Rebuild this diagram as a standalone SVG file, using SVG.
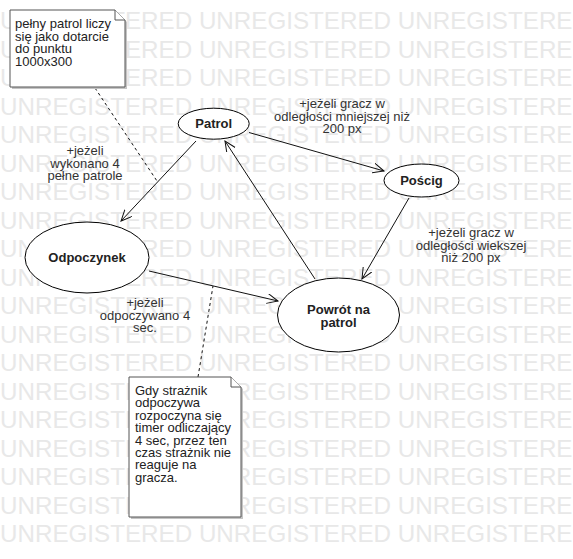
<svg xmlns="http://www.w3.org/2000/svg" width="573" height="559" viewBox="0 0 573 559">
<style>
.wm{font-family:"Liberation Sans",Arial,sans-serif;font-size:24.2px;fill:#e8e8e8}
.lbl{font-family:"Liberation Sans",Arial,sans-serif;font-size:13px;fill:#333;text-anchor:middle}
.st{font-family:"Liberation Sans",Arial,sans-serif;font-size:13px;font-weight:bold;fill:#222;text-anchor:middle}
.nt{font-family:"Liberation Sans",Arial,sans-serif;font-size:13px;fill:#222}
.state{fill:#fff;stroke:#000;stroke-width:1}
.note{fill:#fff;stroke:#555;stroke-width:1}
.shadow{fill:#c4c4c4}
.edge{fill:none;stroke:#111;stroke-width:1}
.dash{fill:none;stroke:#111;stroke-width:1;stroke-dasharray:3,3}
</style>
<defs>
<marker id="arr" markerUnits="userSpaceOnUse" markerWidth="14" markerHeight="12" refX="11" refY="5" orient="auto">
<path d="M0,0 L11,5 L0,10" fill="none" stroke="#111" stroke-width="1"/>
</marker>
</defs>
<rect width="573" height="559" fill="#fff"/>
<g id="watermark">
<text class="wm" x="0" y="29">UNREGISTERED UNREGISTERED UNREGISTERE</text>
<text class="wm" x="0" y="57.5">UNREGISTERED UNREGISTERED UNREGISTERE</text>
<text class="wm" x="0" y="86">UNREGISTERED UNREGISTERED UNREGISTERE</text>
<text class="wm" x="0" y="114.5">UNREGISTERED UNREGISTERED UNREGISTERE</text>
<text class="wm" x="0" y="143">UNREGISTERED UNREGISTERED UNREGISTERE</text>
<text class="wm" x="0" y="171.5">UNREGISTERED UNREGISTERED UNREGISTERE</text>
<text class="wm" x="0" y="200">UNREGISTERED UNREGISTERED UNREGISTERE</text>
<text class="wm" x="0" y="228.5">UNREGISTERED UNREGISTERED UNREGISTERE</text>
<text class="wm" x="0" y="257">UNREGISTERED UNREGISTERED UNREGISTERE</text>
<text class="wm" x="0" y="285.5">UNREGISTERED UNREGISTERED UNREGISTERE</text>
<text class="wm" x="0" y="314">UNREGISTERED UNREGISTERED UNREGISTERE</text>
<text class="wm" x="0" y="342.5">UNREGISTERED UNREGISTERED UNREGISTERE</text>
<text class="wm" x="0" y="371">UNREGISTERED UNREGISTERED UNREGISTERE</text>
<text class="wm" x="0" y="399.5">UNREGISTERED UNREGISTERED UNREGISTERE</text>
<text class="wm" x="0" y="428">UNREGISTERED UNREGISTERED UNREGISTERE</text>
<text class="wm" x="0" y="456.5">UNREGISTERED UNREGISTERED UNREGISTERE</text>
<text class="wm" x="0" y="485">UNREGISTERED UNREGISTERED UNREGISTERE</text>
<text class="wm" x="0" y="513.5">UNREGISTERED UNREGISTERED UNREGISTERE</text>
<text class="wm" x="0" y="542">UNREGISTERED UNREGISTERED UNREGISTERE</text>
</g>
<g id="connectors">
<line class="edge" x1="249" y1="132.5" x2="384" y2="171" marker-end="url(#arr)"/>
<line class="edge" x1="196" y1="141" x2="121" y2="221" marker-end="url(#arr)"/>
<line class="edge" x1="149" y1="271" x2="278" y2="301" marker-end="url(#arr)"/>
<line class="edge" x1="315" y1="279" x2="225" y2="141" marker-end="url(#arr)"/>
<line class="edge" x1="409" y1="198" x2="362" y2="279" marker-end="url(#arr)"/>
<line class="dash" x1="95" y1="88" x2="157" y2="181"/>
<line class="dash" x1="198" y1="377" x2="213" y2="286"/>
<text class="lbl" x="342" y="108">+jeżeli gracz w</text>
<text class="lbl" x="342" y="120.5">odległości mniejszej niż</text>
<text class="lbl" x="342" y="133">200 px</text>
<text class="lbl" x="85" y="155">+jeżeli</text>
<text class="lbl" x="85" y="167.5">wykonano 4</text>
<text class="lbl" x="85" y="180">pełne patrole</text>
<text class="lbl" x="145" y="307">+jeżeli</text>
<text class="lbl" x="145" y="319.5">odpoczywano 4</text>
<text class="lbl" x="145" y="332">sec.</text>
<text class="lbl" x="471" y="237">+jeżeli gracz w</text>
<text class="lbl" x="471" y="249.5">odległości wiekszej</text>
<text class="lbl" x="471" y="262">niż 200 px</text>
</g>
<g id="note1">
<path class="shadow" d="M12,12 H117 L127,22 V89 H12 Z"/>
<path class="note" d="M10,10 H115 L125,20 V87 H10 Z"/>
<path class="note" d="M115,10 V20 H125"/>
<text class="nt" x="15" y="28">pełny patrol liczy</text>
<text class="nt" x="15" y="40.5">się jako dotarcie</text>
<text class="nt" x="15" y="53">do punktu</text>
<text class="nt" x="15" y="65.5">1000x300</text>
</g>
<g id="note2">
<path class="shadow" d="M131,379 H233 L243,389 V519 H131 Z"/>
<path class="note" d="M129,377 H231 L241,387 V517 H129 Z"/>
<path class="note" d="M231,377 V387 H241"/>
<text class="nt" x="135" y="395">Gdy strażnik</text>
<text class="nt" x="135" y="407.4">odpoczywa</text>
<text class="nt" x="135" y="419.8">rozpoczyna się</text>
<text class="nt" x="135" y="432.2">timer odliczający</text>
<text class="nt" x="135" y="444.6">4 sec, przez ten</text>
<text class="nt" x="135" y="457">czas strażnik nie</text>
<text class="nt" x="135" y="469.4">reaguje na</text>
<text class="nt" x="135" y="481.8">gracza.</text>
</g>
<g id="patrol">
<ellipse class="state" cx="213.7" cy="123.7" rx="35.5" ry="15.5"/>
<text class="st" x="213.7" y="128.3">Patrol</text>
</g>
<g id="poscig">
<ellipse class="state" cx="421.5" cy="180.5" rx="37.5" ry="16.5"/>
<text class="st" x="421.5" y="185">Pościg</text>
</g>
<g id="odpoczynek">
<ellipse class="state" cx="87" cy="257.5" rx="62" ry="35.5"/>
<text class="st" x="87" y="262">Odpoczynek</text>
</g>
<g id="powrot">
<ellipse class="state" cx="338.5" cy="315" rx="61" ry="37"/>
<text class="st" x="338.5" y="313.5">Powrót na</text>
<text class="st" x="338.5" y="327">patrol</text>
</g>
</svg>
